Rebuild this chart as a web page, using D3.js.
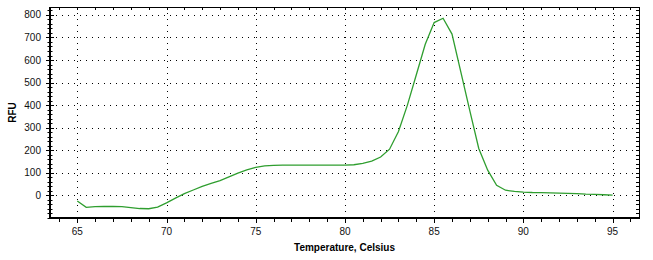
<!DOCTYPE html>
<html>
<head>
<meta charset="utf-8">
<script src="https://cdn.jsdelivr.net/npm/d3@7"></script>
<style>
  body { margin: 0; background: #fff; }
  text { font-family: "Liberation Sans", Arial, sans-serif; }
</style>
</head>
<body>
<svg id="chart" width="653" height="260"></svg>
<script>
// melt curve
const temps = [65, 65.5, 66, 66.5, 67, 67.5, 68, 68.5, 69, 69.5,
  70, 70.5, 71, 71.5, 72, 72.5, 73, 73.5, 74, 74.5,
  75, 75.5, 76, 76.5, 77, 77.5, 78, 78.5, 79, 79.5,
  80, 80.5, 81, 81.5, 82, 82.5, 83, 83.5, 84, 84.5,
  85, 85.5, 86, 86.5, 87, 87.5, 88, 88.5, 89, 89.5,
  90, 90.5, 91, 91.5, 92, 92.5, 93, 93.5, 94, 94.5, 95];
const rfu = [-25, -53, -50, -49, -49, -50, -54, -58, -59, -52,
  -33, -12, 8, 24, 40, 53, 66, 82, 99, 113,
  124, 131, 133, 134, 134, 134, 134, 134, 134, 134,
  134, 136, 142, 152, 170, 205, 283, 400, 535, 670,
  766, 785, 715, 545, 375, 208, 112, 45, 23, 18,
  15, 13, 12, 11, 10, 9, 8, 6, 5, 3, 1];

const xTicks = [65, 70, 75, 80, 85, 90, 95];
const xMinor = d3.range(64, 97, 1);
const yTicks = [0, 100, 200, 300, 400, 500, 600, 700, 800];
const yMinor = d3.range(-100, 821, 20);

const svg = d3.select("#chart");
const pL = 50, pR = 639, pT = 7, pB = 218;

const x = d3.scaleLinear().domain([63.47, 96.48]).range([pL, pR]);
const y = d3.scaleLinear().domain([-100, 835]).range([pB, pT]);
const px = v => Math.round(x(v)) + 0.5;
const py = v => Math.round(y(v)) + 0.5;

// dotted grid
svg.append("g").selectAll("line").data(xTicks).join("line")
  .attr("x1", px).attr("x2", px)
  .attr("y1", pT).attr("y2", pB)
  .attr("stroke", "#000").attr("stroke-dasharray", "1,5");
svg.append("g").selectAll("line").data(yTicks).join("line")
  .attr("y1", py).attr("y2", py)
  .attr("x1", pL).attr("x2", pR)
  .attr("stroke", "#000").attr("stroke-dasharray", "1,5");

// curve
const line = d3.line()
  .x((d, i) => x(temps[i]))
  .y(d => y(d));
svg.append("path").datum(rfu)
  .attr("d", line)
  .attr("fill", "none")
  .attr("stroke", "#2f9e2f")
  .attr("stroke-width", 1.3);

// frame
svg.append("line").attr("x1", pL).attr("x2", pR).attr("y1", pT + 0.5).attr("y2", pT + 0.5).attr("stroke", "#000");
svg.append("line").attr("x1", pR + 0.5).attr("x2", pR + 0.5).attr("y1", pT).attr("y2", pB).attr("stroke", "#000");

// top / right inner ticks
svg.append("g").selectAll("line").data(xMinor).join("line")
  .attr("x1", px).attr("x2", px)
  .attr("y1", pT).attr("y2", pT + 3).attr("stroke", "#000");
svg.append("g").selectAll("line").data(yMinor).join("line")
  .attr("y1", py).attr("y2", py)
  .attr("x1", pR - 3).attr("x2", pR).attr("stroke", "#000");

// left axis
const ya = svg.append("g");
ya.selectAll("line.minor").data(yMinor).join("line").attr("class", "minor")
  .attr("y1", py).attr("y2", py)
  .attr("x1", pL - 2.5).attr("x2", pL + 2.5).attr("stroke", "#000");
ya.selectAll("line.major").data(yTicks).join("line").attr("class", "major")
  .attr("y1", py).attr("y2", py)
  .attr("x1", pL - 4).attr("x2", pL + 4).attr("stroke", "#000");
ya.selectAll("text").data(yTicks).join("text")
  .attr("x", 41).attr("y", d => y(d)).attr("dy", "0.35em")
  .attr("text-anchor", "end").attr("font-size", 10).attr("fill", "#111")
  .text(d => d);
ya.append("line").attr("x1", pL).attr("x2", pL).attr("y1", pT).attr("y2", pB + 1)
  .attr("stroke", "#000").attr("stroke-width", 2);

// bottom axis
const xa = svg.append("g");
xa.selectAll("line.minor").data(xMinor).join("line").attr("class", "minor")
  .attr("x1", px).attr("x2", px)
  .attr("y1", pB).attr("y2", pB + 4).attr("stroke", "#000");
xa.selectAll("line.major").data(xTicks).join("line").attr("class", "major")
  .attr("x1", px).attr("x2", px)
  .attr("y1", pB).attr("y2", pB + 5).attr("stroke", "#000");
xa.selectAll("text").data(xTicks).join("text")
  .attr("x", d => x(d)).attr("y", 235)
  .attr("text-anchor", "middle").attr("font-size", 10).attr("fill", "#111")
  .text(d => d);
xa.append("line").attr("x1", pL - 1).attr("x2", pR + 1).attr("y1", pB).attr("y2", pB)
  .attr("stroke", "#000").attr("stroke-width", 2);

// axis titles
svg.append("text")
  .attr("x", (pL + pR) / 2).attr("y", 251)
  .attr("text-anchor", "middle").attr("font-size", 10).attr("font-weight", "bold")
  .text("Temperature, Celsius");
svg.append("text")
  .attr("transform", `translate(16,${(pT + pB) / 2}) rotate(-90)`)
  .attr("text-anchor", "middle").attr("font-size", 10).attr("font-weight", "bold")
  .text("RFU");
</script>
</body>
</html>
